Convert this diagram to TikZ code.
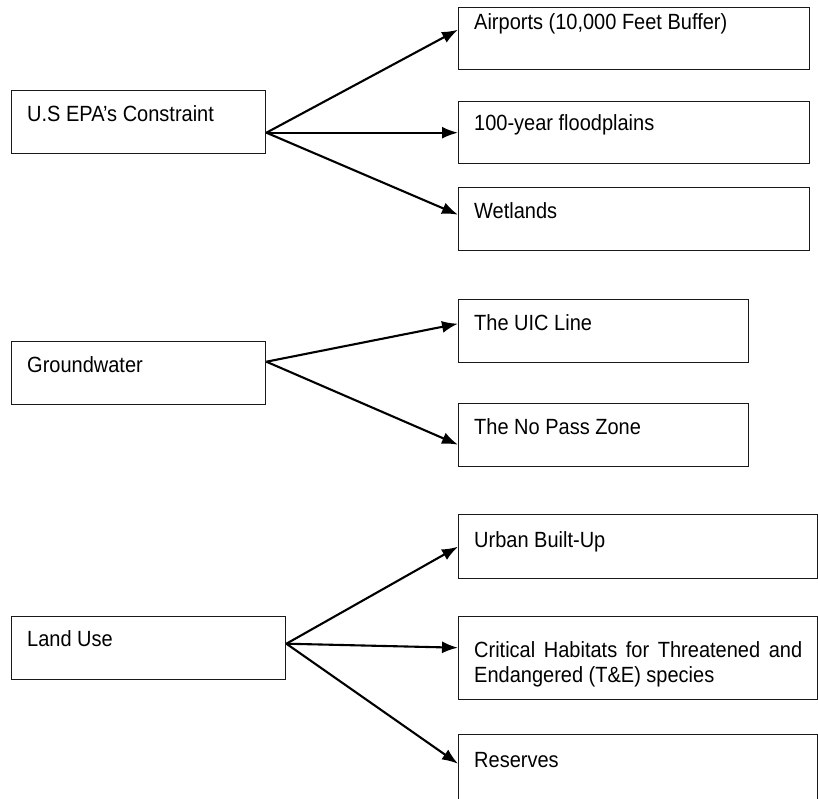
\documentclass[tikz,border=0pt]{standalone}
\usepackage{fontspec}
\setmainfont{Liberation Sans}
\usetikzlibrary{arrows.meta}
% slightly tall lettering
\newcommand{\tall}[1]{\scalebox{1.0}[1.1]{#1}}
\begin{document}
\begin{tikzpicture}[x=1pt,y=-1pt,
  box/.style={draw=black!90, line width=1.4pt, rectangle, inner sep=0pt, anchor=north west},
  lbl/.style={anchor=base west, inner sep=0pt, font=\fontsize{20}{25}\selectfont},
  link/.style={line width=2.1pt, -{Latex[length=16pt,width=12pt]}}]
\useasboundingbox (0,0) rectangle (818,798);
\clip (0,0) rectangle (818,798);

% boxes
\node[box, minimum width=254pt, minimum height=63pt] (epa)   at (11,90)   {};
\node[box, minimum width=351pt, minimum height=62pt] (air)   at (458,7)   {};
\node[box, minimum width=351pt, minimum height=62pt] (flood) at (458,101) {};
\node[box, minimum width=351pt, minimum height=63pt] (wet)   at (458,187) {};
\node[box, minimum width=254pt, minimum height=63pt] (gw)    at (11,341)  {};
\node[box, minimum width=290pt, minimum height=63pt] (uic)   at (458,299) {};
\node[box, minimum width=290pt, minimum height=63pt] (nop)   at (458,403) {};
\node[box, minimum width=274pt, minimum height=63pt] (land)  at (11,616)  {};
\node[box, minimum width=359pt, minimum height=64pt] (urb)   at (458,514) {};
\node[box, minimum width=359pt, minimum height=83pt] (crit)  at (458,616) {};
\node[box, minimum width=359pt, minimum height=80pt] (res)   at (458,734) {};

% labels
\node[lbl] (tepa)   at (27,121)  {\tall{U.S EPA’s Constraint}};
\node[lbl] (tair)   at (474,29)  {\tall{Airports (10,000 Feet Buffer)}};
\node[lbl] (tflood) at (474,130) {\tall{100-year floodplains}};
\node[lbl] (twet)   at (474,218) {\tall{Wetlands}};
\node[lbl] (tgw)    at (27,372)  {\tall{Groundwater}};
\node[lbl] (tuic)   at (474,330) {\tall{The UIC Line}};
\node[lbl] (tnop)   at (474,434) {\tall{The No Pass Zone}};
\node[lbl] (tland)  at (27,646)  {\tall{Land Use}};
\node[lbl] (turb)   at (474,547) {\tall{Urban Built-Up}};
\node[lbl] (tcrit1) at (474,657) {\tall{\makebox[328pt][s]{Critical Habitats for Threatened and}}};
\node[lbl] (tcrit2) at (474,682) {\tall{Endangered (T\&E) species}};
\node[lbl] (tres)   at (474,767) {\tall{Reserves}};

% connectors
\draw[link] ([yshift=-10.5pt]epa.east) -- ([yshift=9pt]air.west);
\draw[link] ([yshift=-10.5pt]epa.east) -- (flood.west);
\draw[link] ([yshift=-10.5pt]epa.east) -- ([yshift=4.5pt]wet.west);

\draw[link] ([yshift=11.5pt]gw.east) -- ([yshift=7.5pt]uic.west);
\draw[link] ([yshift=11.5pt]gw.east) -- ([yshift=-9.5pt]nop.west);

\draw[link] ([yshift=4.5pt]land.east) -- (urb.west);
\draw[link] ([yshift=4.5pt]land.east) -- ([yshift=10.5pt]crit.west);
\draw[link] ([yshift=4.5pt]land.east) -- ([yshift=11pt]res.west);
\end{tikzpicture}
\end{document}
